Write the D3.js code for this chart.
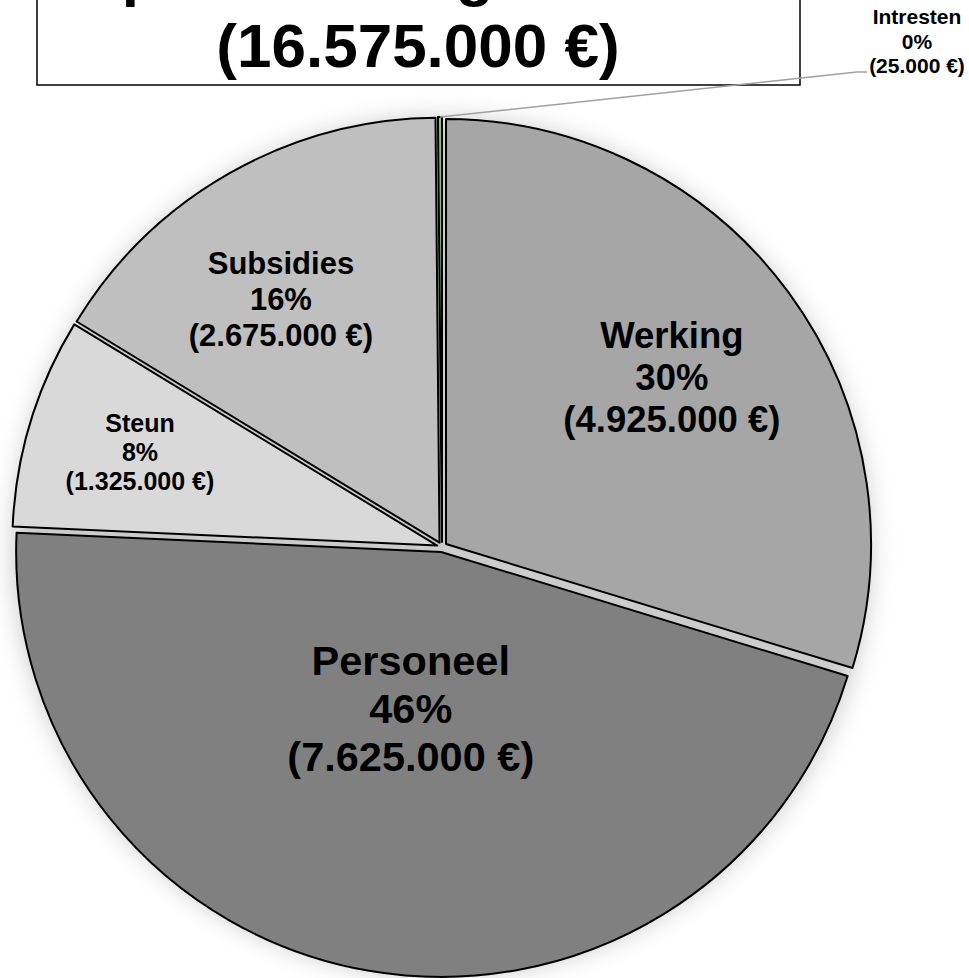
<!DOCTYPE html>
<html>
<head>
<meta charset="utf-8">
<script src="https://cdn.jsdelivr.net/npm/d3@7"></script>
<style>
  html, body { margin: 0; padding: 0; background: #fff; }
  svg { display: block; font-family: Arial, "Liberation Sans", sans-serif; }
</style>
</head>
<body>
<div id="chart"></div>
<script>
// data
const categories = ["Werking", "Personeel", "Steun", "Subsidies", "Intresten"];
const amounts = [4925000, 7625000, 1325000, 2675000, 25000];
const titleLines = ["Exploitatie-uitgaven 2013"];

// look of each slice (same order as categories)
const sliceColors = ["#a6a6a6", "#808080", "#d9d9d9", "#bfbfbf", "#92d050"];
const labelFont = [36.5, 41.5, 25, 31, 21];
const labelRadius = [0.673, 0.386, 0.745, 0.696, null];
const labelNudge = [0, 1.2, 0.5, -3.4, 0];   // degrees

const width = 969, height = 978;
const cx = 442, cy = 547, radius = 425, explode = 5;

const nl = d3.formatLocale({ decimal: ",", thousands: ".", grouping: [3], currency: ["", " €"] });
const fmtEuro = v => "(" + nl.format(",")(v) + " €)";
const total = d3.sum(amounts);

const svg = d3.select("#chart").append("svg")
    .attr("width", width)
    .attr("height", height);

const defs = svg.append("defs");
defs.append("filter")
    .attr("id", "glow")
    .attr("x", "-20%").attr("y", "-20%")
    .attr("width", "140%").attr("height", "140%")
    .append("feGaussianBlur")
    .attr("stdDeviation", 12);

// soft shadow under the pie
svg.append("circle")
    .attr("cx", cx)
    .attr("cy", cy)
    .attr("r", radius + 4)
    .attr("fill", "#9a9a9a")
    .attr("opacity", 0.5)
    .attr("filter", "url(#glow)");

// title box (its top runs off the page)
svg.append("rect")
    .attr("x", 37)
    .attr("y", -120)
    .attr("width", 763)
    .attr("height", 205)
    .attr("fill", "#fff")
    .attr("stroke", "#000")
    .attr("stroke-width", 1.5);

const titleText = svg.append("text")
    .attr("text-anchor", "middle")
    .attr("font-weight", "bold")
    .attr("font-size", 62)
    .attr("fill", "#000");
titleLines.concat([fmtEuro(total)]).forEach((t, i, arr) => {
    titleText.append("tspan")
        .attr("x", 418)
        .attr("y", 67 - (arr.length - 1 - i) * 73)
        .text(t);
});

const pie = d3.pie().sort(null).value(d => d);
const arcs = pie(amounts);
const arc = d3.arc().innerRadius(0).outerRadius(radius);

function offset(d, dist) {
    const a = (d.startAngle + d.endAngle) / 2;
    return [Math.sin(a) * dist, -Math.cos(a) * dist];
}

const slices = svg.append("g")
    .attr("transform", `translate(${cx},${cy})`);

slices.selectAll("path")
    .data(arcs)
    .enter().append("path")
    .attr("transform", d => `translate(${offset(d, explode)})`)
    .attr("d", arc)
    .attr("fill", (d, i) => sliceColors[i])
    .attr("stroke", "#000")
    .attr("stroke-width", 2)
    .attr("stroke-linejoin", "round");

// labels inside the slices
arcs.forEach((d, i) => {
    if (labelRadius[i] === null) return;
    const a = (d.startAngle + d.endAngle) / 2 + labelNudge[i] * Math.PI / 180;
    const lx = cx + Math.sin(a) * radius * labelRadius[i];
    const ly = cy - Math.cos(a) * radius * labelRadius[i];
    drawLabel(i, lx, ly);
});

// the tiny slice gets an outside label with a leader line
const small = arcs[4];
const sOff = offset(small, explode);
const sMid = (small.startAngle + small.endAngle) / 2;
const tip = [cx + sOff[0] + Math.sin(sMid) * radius, cy + sOff[1] - Math.cos(sMid) * radius];
svg.append("polyline")
    .attr("points", [tip, [857, 72], [867, 72]].map(p => p.join(",")).join(" "))
    .attr("fill", "none")
    .attr("stroke", "#a0a0a0")
    .attr("stroke-width", 1.5);
drawLabel(4, 917, 41);

function drawLabel(i, x, y) {
    const fs = labelFont[i];
    const lh = fs * 1.16;
    const pct = Math.round(amounts[i] / total * 100) + "%";
    const lines = [categories[i], pct, fmtEuro(amounts[i])];
    const t = svg.append("text")
        .attr("text-anchor", "middle")
        .attr("font-weight", "bold")
        .attr("font-size", fs)
        .attr("fill", "#000");
    lines.forEach((s, k) => {
        t.append("tspan")
            .attr("x", x)
            .attr("y", y + 0.358 * fs + (k - 1) * lh)
            .text(s);
    });
}
</script>
</body>
</html>
